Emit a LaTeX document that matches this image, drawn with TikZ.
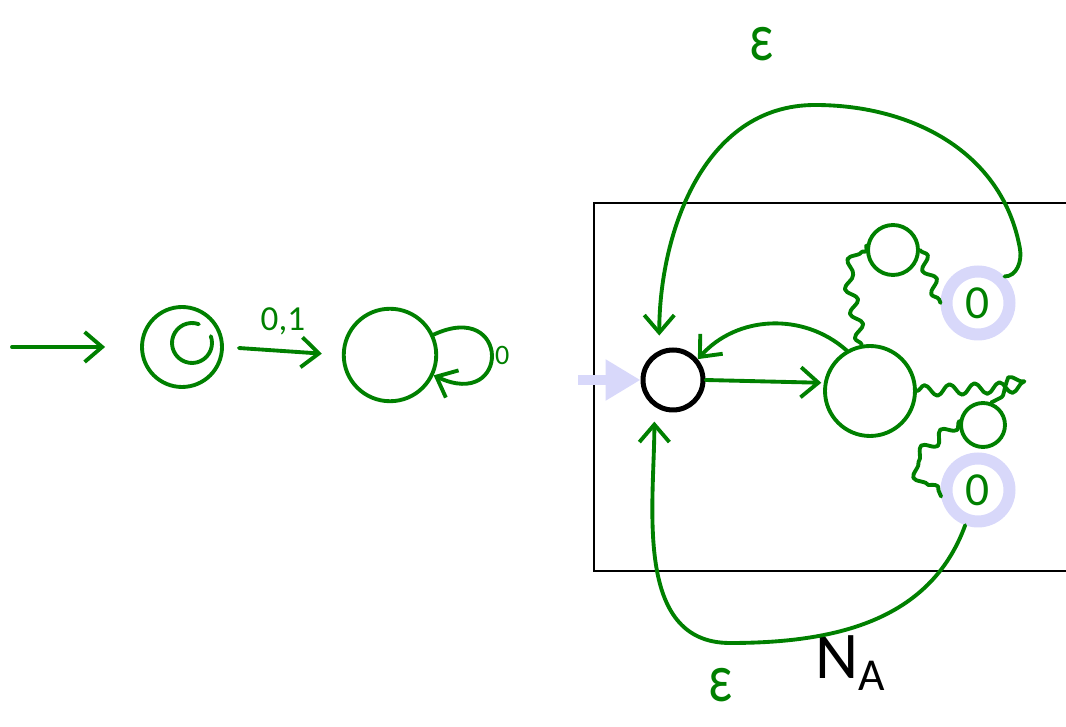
\documentclass[tikz,border=0pt]{standalone}
\usepackage{fontspec}
\setmainfont{Carlito}
\usepackage{xcolor}
\usetikzlibrary{arrows.meta, positioning, calc, decorations.pathmorphing}
\definecolor{pen}{RGB}{0,128,0}
\definecolor{lav}{RGB}{216,216,250}
\newcommand{\handeps}{\scalebox{1.0}[1.3]{\fontsize{30}{30}\selectfont ε}}
\tikzset{
    ink/.style={
        draw=pen,
        line width=2.2pt,
        line cap=round,
        line join=round
    },
    state/.style={
        circle,
        ink,
        inner sep=0pt
    },
    startstate/.style={
        circle,
        draw=black,
        line width=0.1cm,
        minimum size=1.2cm,
        inner sep=0pt
    },
    ring/.style={
        circle,
        draw=lav,
        line width=0.24cm,
        minimum size=1.26cm,
        inner sep=0pt,
        text=pen,
        font=\fontsize{27}{27}\selectfont
    },
    tipV/.style={
        -{Straight Barb[length=0.35cm, width=0.6cm]}
    },
    wiggle/.style={
        ink,
        decorate,
        decoration={snake, amplitude=1.1mm, segment length=5mm}
    },
    inklabel/.style={
        text=pen,
        inner sep=1pt
    }
}

\begin{document}
\begin{tikzpicture}[x=0.02cm, y=0.02cm]

    \useasboundingbox (0,0) rectangle (1066,727);

    % Left automaton
    \coordinate (in) at (12,380);
    \node (qa) [state, minimum size=1.6cm] at (182,380) {};
    \draw [ink] (192,384) ++(70:0.4cm) arc[start angle=70, end angle=380, radius=0.4cm];
    \node (qb) [state, minimum size=1.85cm] at (390,372) {};

    \draw [ink, tipV, shorten >=0.7cm] (in) -- (qa);
    \draw [ink, tipV, shorten <=0.3cm, shorten >=0.4cm] (qa.east) -- (qb.west)
        node [inklabel, midway, above=0.25cm, font=\fontsize{20}{20}\selectfont] {0,1};
    \draw [ink, tipV] (qb) to[loop, out=25, in=-25, min distance=1.3cm, distance=1.7cm]
        node [inklabel, right, font=\fontsize{16}{16}\selectfont] {0} (qb);

    % Box N_A
    \draw [black, line width=1.4pt] (1070,524) -- (594,524) -- (594,156) -- (1070,156);
    \node (na) [inner sep=0pt] at (850,64)
        {\fontsize{38}{40}\selectfont N\raisebox{-7pt}{\fontsize{26}{28}\selectfont A}};

    % States inside the box
    \node (s0) [startstate] at (673,347) {};
    \node (qc) [state, minimum size=1.8cm] at (870,336) {};
    \node (qA) [state, minimum size=1.0cm] at (893,477) {};
    \node (rB) [ring] at (978,424) {0};
    \node (qC) [state, minimum size=0.88cm] at (983,302) {};
    \node (rD) [ring] at (978,237) {0};

    % Start arrow
    \coordinate (st) at (578,347);
    \draw [lav, line width=0.2cm, -{Triangle[length=0.7cm, width=0.78cm]}] (st) -- (s0.west);

    % Connections
    \draw [ink, tipV, shorten >=0.05cm] (s0.east) -- (qc.170);
    \draw [ink, tipV] (qc.120) to[bend right=45] (s0.40);

    \draw [wiggle] (qc.100) -- (850,440) -- (qA.170);
    \draw [wiggle] (qA.east) -- (rB.west);
    \draw [wiggle] (qc.east) -- (1022,340) -- (qC.70);
    \draw [wiggle] (qC.170) -- (922,275) -- (rD.190);

    % Epsilon arcs
    \draw [ink, tipV, shorten >=0.3cm] (rB.45) to[out=0, in=-80] (1020,478)
        to[out=100, in=0] (815,622) to[out=180, in=90] (s0.115);
    \draw [ink, tipV, shorten >=0.3cm] (rD.250) to[out=-110, in=0] (730,84)
        to[out=180, in=-90] (s0.235);

    \node (e1) [inklabel, inner sep=0pt] at (762,683) {\handeps};
    \node (e2) [inklabel, inner sep=0pt] at (721,42) {\handeps};

\end{tikzpicture}
\end{document}
